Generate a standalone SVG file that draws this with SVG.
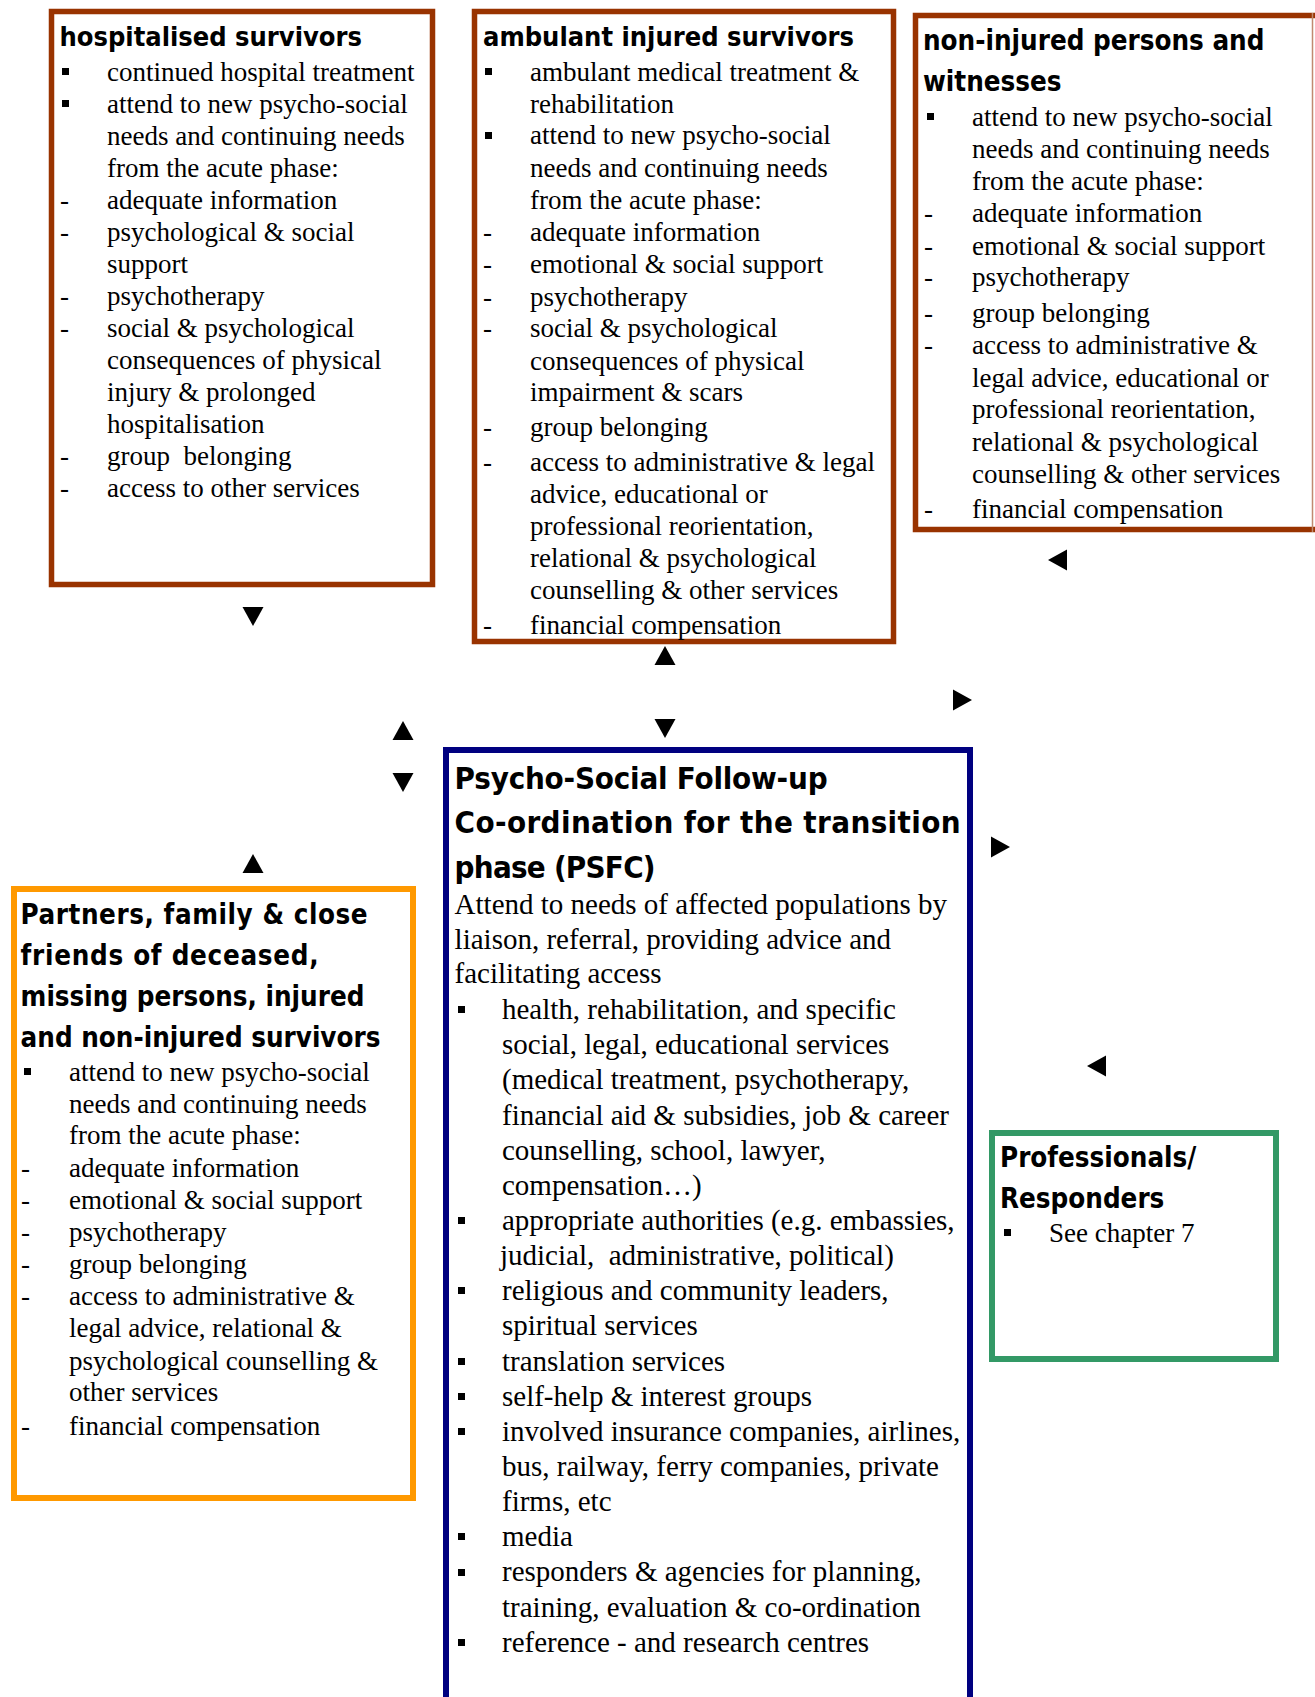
<svg xmlns="http://www.w3.org/2000/svg" xmlns:xlink="http://www.w3.org/1999/xlink" width="1315" height="1697" viewBox="0 0 1315 1697">
<style>
.bg{fill:#fff}
.box{fill:#fff;stroke-width:5.5}
.brown{stroke:#993300}
.navy{stroke:#000080;stroke-width:6}
.orange{stroke:#FF9900;stroke-width:6}
.green{stroke:#339966;stroke-width:6}
.hd{font-family:"DejaVu Sans Condensed","DejaVu Sans",sans-serif;font-stretch:condensed;font-weight:bold;fill:#000}
.tx{font-family:"Liberation Serif","Times New Roman",serif;font-size:27px;fill:#000}
.tx29{font-size:29px}
.arr{fill:#000}
</style>
<defs>
<rect id="sq" width="7" height="7" fill="#000"/>
<polygon id="ah" points="0,0 -19,-10.5 -19,10.5"/>
</defs>
<rect class="bg" x="0" y="0" width="1315" height="1697"/>

<g id="node-hospitalised">
<rect class="box brown" x="51.5" y="11.5" width="381" height="573"/>
<text class="hd" x="59.5" y="46" font-size="27">hospitalised survivors</text>
<use href="#sq" x="62" y="68"/>
<text class="tx" x="107" y="80.5">continued hospital treatment</text>
<use href="#sq" x="62" y="100"/>
<text class="tx" x="107" y="112.5">attend to new psycho-social</text>
<text class="tx" x="107" y="144.6">needs and continuing needs</text>
<text class="tx" x="107" y="176.7">from the acute phase:</text>
<text class="tx" x="60" y="208.7">-</text><text class="tx" x="107" y="208.7">adequate information</text>
<text class="tx" x="60" y="240.8">-</text><text class="tx" x="107" y="240.8">psychological &amp; social</text>
<text class="tx" x="107" y="272.8">support</text>
<text class="tx" x="60" y="304.9">-</text><text class="tx" x="107" y="304.9">psychotherapy</text>
<text class="tx" x="60" y="336.9">-</text><text class="tx" x="107" y="336.9">social &amp; psychological</text>
<text class="tx" x="107" y="369">consequences of physical</text>
<text class="tx" x="107" y="401">injury &amp; prolonged</text>
<text class="tx" x="107" y="433.1">hospitalisation</text>
<text class="tx" x="60" y="465.1">-</text><text class="tx" x="107" y="465.1" xml:space="preserve">group  belonging</text>
<text class="tx" x="60" y="497.2">-</text><text class="tx" x="107" y="497.2">access to other services</text>
</g>

<g id="node-ambulant">
<rect class="box brown" x="474.5" y="11.5" width="419" height="630"/>
<text class="hd" x="483" y="46" font-size="27">ambulant injured survivors</text>
<use href="#sq" x="485" y="68"/>
<text class="tx" x="530" y="80.5">ambulant medical treatment &amp;</text>
<text class="tx" x="530" y="113">rehabilitation</text>
<use href="#sq" x="485" y="132"/>
<text class="tx" x="530" y="144.4">attend to new psycho-social</text>
<text class="tx" x="530" y="176.8">needs and continuing needs</text>
<text class="tx" x="530" y="209.3">from the acute phase:</text>
<text class="tx" x="483" y="240.7">-</text><text class="tx" x="530" y="240.7">adequate information</text>
<text class="tx" x="483" y="273.2">-</text><text class="tx" x="530" y="273.2">emotional &amp; social support</text>
<text class="tx" x="483" y="305.6">-</text><text class="tx" x="530" y="305.6">psychotherapy</text>
<text class="tx" x="483" y="337">-</text><text class="tx" x="530" y="337">social &amp; psychological</text>
<text class="tx" x="530" y="369.5">consequences of physical</text>
<text class="tx" x="530" y="400.9">impairment &amp; scars</text>
<text class="tx" x="483" y="435.5">-</text><text class="tx" x="530" y="435.5">group belonging</text>
<text class="tx" x="483" y="471.2">-</text><text class="tx" x="530" y="471.2">access to administrative &amp; legal</text>
<text class="tx" x="530" y="502.6">advice, educational or</text>
<text class="tx" x="530" y="535">professional reorientation,</text>
<text class="tx" x="530" y="566.5">relational &amp; psychological</text>
<text class="tx" x="530" y="599">counselling &amp; other services</text>
<text class="tx" x="483" y="633.6">-</text><text class="tx" x="530" y="633.6">financial compensation</text>
</g>

<g id="node-noninjured">
<rect class="box brown" x="915.5" y="15.5" width="420" height="514"/>
<line x1="1312.5" y1="13" x2="1312.5" y2="532" stroke="#c08a70" stroke-width="1.5"/>
<text class="hd" x="923" y="50" font-size="27.5">non-injured persons and</text>
<text class="hd" x="923" y="91" font-size="27.5">witnesses</text>
<use href="#sq" x="927" y="113"/>
<text class="tx" x="972" y="126">attend to new psycho-social</text>
<text class="tx" x="972" y="158.4">needs and continuing needs</text>
<text class="tx" x="972" y="189.8">from the acute phase:</text>
<text class="tx" x="924" y="222.3">-</text><text class="tx" x="972" y="222.3">adequate information</text>
<text class="tx" x="924" y="254.8">-</text><text class="tx" x="972" y="254.8">emotional &amp; social support</text>
<text class="tx" x="924" y="286.2">-</text><text class="tx" x="972" y="286.2">psychotherapy</text>
<text class="tx" x="924" y="321.9">-</text><text class="tx" x="972" y="321.9">group belonging</text>
<text class="tx" x="924" y="354.3">-</text><text class="tx" x="972" y="354.3">access to administrative &amp;</text>
<text class="tx" x="972" y="386.8">legal advice, educational or</text>
<text class="tx" x="972" y="418.2">professional reorientation,</text>
<text class="tx" x="972" y="450.7">relational &amp; psychological</text>
<text class="tx" x="972" y="483.1">counselling &amp; other services</text>
<text class="tx" x="924" y="517.8">-</text><text class="tx" x="972" y="517.8">financial compensation</text>
</g>

<g id="node-psfc">
<rect class="box navy" x="446" y="750" width="524" height="1000"/>
<text class="hd" x="454.6" y="789" font-size="31" textLength="373" lengthAdjust="spacing">Psycho-Social Follow-up</text>
<text class="hd" x="454.6" y="833" font-size="31" textLength="506" lengthAdjust="spacing">Co-ordination for the transition</text>
<text class="hd" x="454.6" y="878" font-size="31" textLength="201" lengthAdjust="spacing">phase (PSFC)</text>
<text class="tx tx29" x="454.6" y="914">Attend to needs of affected populations by</text>
<text class="tx tx29" x="454.6" y="948.5">liaison, referral, providing advice and</text>
<text class="tx tx29" x="454.6" y="983">facilitating access</text>
<use href="#sq" x="458" y="1006"/>
<text class="tx tx29" x="502" y="1019">health, rehabilitation, and specific</text>
<text class="tx tx29" x="502" y="1054">social, legal, educational services</text>
<text class="tx tx29" x="502" y="1089">(medical treatment, psychotherapy,</text>
<text class="tx tx29" x="502" y="1124.5">financial aid &amp; subsidies, job &amp; career</text>
<text class="tx tx29" x="502" y="1159.6">counselling, school, lawyer,</text>
<text class="tx tx29" x="502" y="1194.8">compensation…)</text>
<use href="#sq" x="458" y="1217"/>
<text class="tx tx29" x="502" y="1229.9">appropriate authorities (e.g. embassies,</text>
<text class="tx tx29" x="500" y="1265" xml:space="preserve">judicial,  administrative, political)</text>
<use href="#sq" x="458" y="1287"/>
<text class="tx tx29" x="502" y="1300.2">religious and community leaders,</text>
<text class="tx tx29" x="502" y="1335.4">spiritual services</text>
<use href="#sq" x="458" y="1358"/>
<text class="tx tx29" x="502" y="1370.5">translation services</text>
<use href="#sq" x="458" y="1393"/>
<text class="tx tx29" x="502" y="1405.7">self-help &amp; interest groups</text>
<use href="#sq" x="458" y="1428"/>
<text class="tx tx29" x="502" y="1440.8">involved insurance companies, airlines,</text>
<text class="tx tx29" x="502" y="1476">bus, railway, ferry companies, private</text>
<text class="tx tx29" x="502" y="1511.1">firms, etc</text>
<use href="#sq" x="458" y="1533"/>
<text class="tx tx29" x="502" y="1546.3">media</text>
<use href="#sq" x="458" y="1569"/>
<text class="tx tx29" x="502" y="1581.4">responders &amp; agencies for planning,</text>
<text class="tx tx29" x="502" y="1616.6">training, evaluation &amp; co-ordination</text>
<use href="#sq" x="458" y="1639"/>
<text class="tx tx29" x="502" y="1651.7">reference - and research centres</text>
</g>

<g id="node-partners">
<rect class="box orange" x="14" y="889" width="399" height="609"/>
<text class="hd" x="20.6" y="924" font-size="27.5" textLength="347" lengthAdjust="spacing">Partners, family &amp; close</text>
<text class="hd" x="20.6" y="965" font-size="27.5" textLength="298" lengthAdjust="spacing">friends of deceased,</text>
<text class="hd" x="20.6" y="1006" font-size="27.5">missing persons, injured</text>
<text class="hd" x="20.6" y="1047" font-size="27.5">and non-injured survivors</text>
<use href="#sq" x="24" y="1068"/>
<text class="tx" x="69" y="1080.5">attend to new psycho-social</text>
<text class="tx" x="69" y="1113">needs and continuing needs</text>
<text class="tx" x="69" y="1144.4">from the acute phase:</text>
<text class="tx" x="21" y="1176.9">-</text><text class="tx" x="69" y="1176.9">adequate information</text>
<text class="tx" x="21" y="1209.4">-</text><text class="tx" x="69" y="1209.4">emotional &amp; social support</text>
<text class="tx" x="21" y="1240.7">-</text><text class="tx" x="69" y="1240.7">psychotherapy</text>
<text class="tx" x="21" y="1273.2">-</text><text class="tx" x="69" y="1273.2">group belonging</text>
<text class="tx" x="21" y="1304.6">-</text><text class="tx" x="69" y="1304.6">access to administrative &amp;</text>
<text class="tx" x="69" y="1337">legal advice, relational &amp;</text>
<text class="tx" x="69" y="1369.5">psychological counselling &amp;</text>
<text class="tx" x="69" y="1400.9">other services</text>
<text class="tx" x="21" y="1434.5">-</text><text class="tx" x="69" y="1434.5">financial compensation</text>
</g>

<g id="node-professionals">
<rect class="box green" x="992" y="1133" width="284" height="226"/>
<text class="hd" x="1000" y="1167" font-size="27.5">Professionals/</text>
<text class="hd" x="1000" y="1208" font-size="27.5">Responders</text>
<use href="#sq" x="1004" y="1229"/>
<text class="tx" x="1049" y="1242">See chapter 7</text>
</g>

<g id="connectors" class="arr">
<use href="#ah" transform="translate(253,626) rotate(90)"/>
<use href="#ah" transform="translate(403,721) rotate(-90)"/>
<use href="#ah" transform="translate(403,792) rotate(90)"/>
<use href="#ah" transform="translate(665,646) rotate(-90)"/>
<use href="#ah" transform="translate(665,738) rotate(90)"/>
<use href="#ah" transform="translate(972,700)"/>
<use href="#ah" transform="translate(1048,560) rotate(180)"/>
<use href="#ah" transform="translate(253,854) rotate(-90)"/>
<use href="#ah" transform="translate(1010,847)"/>
<use href="#ah" transform="translate(1087,1066) rotate(180)"/>
</g>
</svg>
